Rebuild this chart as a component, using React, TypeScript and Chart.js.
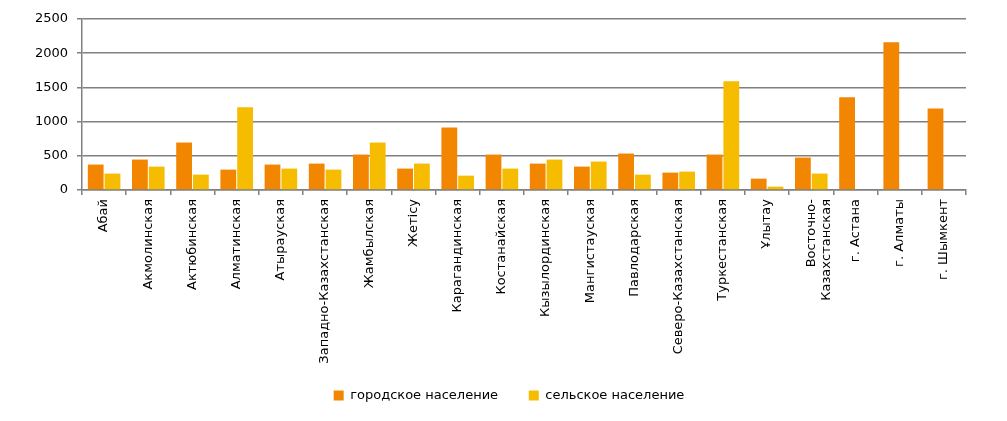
import React, { useEffect, useRef } from "react";
import { Chart, registerables } from "chart.js";

Chart.register(...registerables);

const categories: (string | string[])[] = [
  "Абай",
  "Акмолинская",
  "Актюбинская",
  "Алматинская",
  "Атырауская",
  "Западно-Казахстанская",
  "Жамбылская",
  "Жетісу",
  "Карагандинская",
  "Костанайская",
  "Кызылординская",
  "Мангистауская",
  "Павлодарская",
  "Северо-Казахстанская",
  "Туркестанская",
  "Ұлытау",
  ["Восточно-", "Казахстанская"],
  "г. Астана",
  "г. Алматы",
  "г. Шымкент",
];

const urbanValues = [372, 445, 694, 298, 372, 386, 518, 313, 914, 518, 386, 342, 533, 254, 518, 166, 474, 1355, 2161, 1193];
const ruralValues = [240, 342, 225, 1208, 313, 298, 694, 386, 210, 313, 445, 416, 225, 269, 1589, 49, 240, 0, 0, 0];

const seriesNames = ["городское население", "сельское население"];
const yTicks = [0, 500, 1000, 1500, 2000, 2500];

const ORANGE = "#F28600";
const YELLOW = "#F6BC00";
const GRAY = "#808080";
const FONT = "'DejaVu Sans', sans-serif";

export default function App() {
  const ref = useRef<HTMLCanvasElement | null>(null);

  useEffect(() => {
    if (!ref.current) return;
    const chart = new Chart(ref.current, {
      type: "bar",
      data: {
        labels: categories,
        datasets: [
          {
            label: seriesNames[0],
            data: urbanValues,
            backgroundColor: ORANGE,
            borderWidth: 0,
            categoryPercentage: 0.76,
            barPercentage: 0.94,
          },
          {
            label: seriesNames[1],
            data: ruralValues,
            backgroundColor: YELLOW,
            borderWidth: 0,
            categoryPercentage: 0.76,
            barPercentage: 0.94,
          },
        ],
      },
      options: {
        animation: false,
        responsive: false,
        maintainAspectRatio: false,
        layout: { padding: { left: 11, right: 0, top: 19, bottom: 9 } },
        plugins: {
          tooltip: { enabled: false },
          legend: {
            position: "bottom",
            labels: {
              font: { family: FONT, size: 13 },
              color: "#000",
              boxWidth: 10,
              boxHeight: 10,
              padding: 10,
              generateLabels: (c: any) => {
                const items = Chart.defaults.plugins.legend.labels.generateLabels(c);
                return items.map((it: any, i: number) => ({
                  ...it,
                  text: i === 0 ? it.text + "     " : it.text,
                  lineWidth: 0,
                }));
              },
            },
          },
        },
        scales: {
          x: {
            grid: {
              display: true,
              drawOnChartArea: false,
              drawTicks: true,
              tickLength: 5,
              color: GRAY,
              lineWidth: 1.5,
              offset: true,
            },
            border: { display: true, color: GRAY, width: 1.5 },
            ticks: {
              autoSkip: false,
              maxRotation: 90,
              minRotation: 90,
              color: "#000",
              font: { family: FONT, size: 13 },
              padding: 4,
            },
            afterFit: (scale: any) => {
              scale.height = 189;
            },
          },
          y: {
            min: 0,
            max: 2500,
            afterBuildTicks: (scale: any) => {
              scale.ticks = yTicks.map((v) => ({ value: v }));
            },
            grid: {
              color: GRAY,
              lineWidth: 1.5,
              tickLength: 5,
              drawTicks: true,
            },
            border: { display: true, color: GRAY, width: 1.5 },
            ticks: {
              color: "#000",
              font: { family: FONT, size: 13 },
              padding: 9,
              callback: (v: any) => String(v),
            },
            afterFit: (scale: any) => {
              scale.width = 71;
            },
          },
          yRight: {
            type: "linear",
            position: "right",
            display: true,
            grid: { display: false, drawOnChartArea: false },
            border: { display: false },
            ticks: { display: false },
            afterFit: (scale: any) => {
              scale.width = 41;
            },
          },
        },
      },
    });
    return () => chart.destroy();
  }, []);

  return (
    <div style={{ position: "absolute", left: 0, top: 0, width: 1007, height: 421 }}>
      <canvas ref={ref} width={1007} height={421} style={{ width: 1007, height: 421 }} />
    </div>
  );
}
